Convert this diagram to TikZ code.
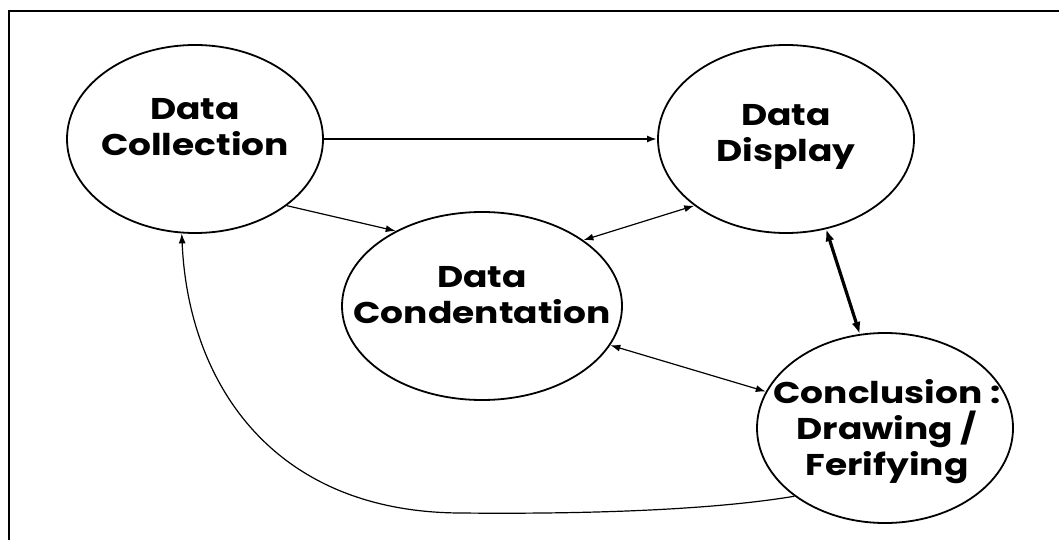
\documentclass[tikz,border=0pt]{standalone}
\usepackage{fontspec}
\setmainfont{Poppins}[FakeStretch=1.2]
\usetikzlibrary{shapes.geometric,arrows.meta}
\begin{document}
\begin{tikzpicture}[x=1pt,y=-1pt,
  stage/.style={ellipse, draw, line width=1.8pt, minimum width=256pt, minimum height=188pt, inner sep=0pt},
  label txt/.style={align=center, font=\fontsize{30}{36}\selectfont\bfseries},
  flow/.style={line width=1.2pt, -{Latex[length=10pt,width=7pt]}},
  flowboth/.style={line width=1.2pt, {Latex[length=10pt,width=7pt]}-{Latex[length=10pt,width=7pt]}}]
\useasboundingbox (0,0) rectangle (1059,540);
\draw[line width=2.5pt] (9,540) |- (1059,11);
\node[stage] (dcol) at (195,139){};
\node[stage] (ddis) at (786,139){};
\node[stage, minimum width=280pt] (dcon) at (482,306){};
\node[stage, minimum height=190pt] (concl) at (885,428){};
\node[label txt] (dcol-t) at (195,127){Data\\Collection};
\node[label txt] (ddis-t) at (786,137){Data\\Display};
\node[label txt] (dcon-t) at (482,295){Data\\Condentation};
\node[label txt] (concl-t) at (887,432){Conclusion :\\Drawing /\\Ferifying};
\draw[flow, line width=2.2pt] (dcol.east) -- (ddis.west);
\draw[flow](dcol.-36) -- (dcon.139);
\draw[flowboth](dcon.33) -- (ddis.-144);
\draw[flowboth, line width=3.2pt, {Latex[length=12pt,width=9pt]}-{Latex[length=12pt,width=9pt]}](ddis.-66) -- (concl.105);
\draw[flowboth](dcon.-17) -- (concl.163);
\draw[flow](concl.-143) .. controls (700,512) and (560,514) .. (460,513)
  .. controls (270,512) and (188,380) .. (dcol.-98);

\end{tikzpicture}
\end{document}
